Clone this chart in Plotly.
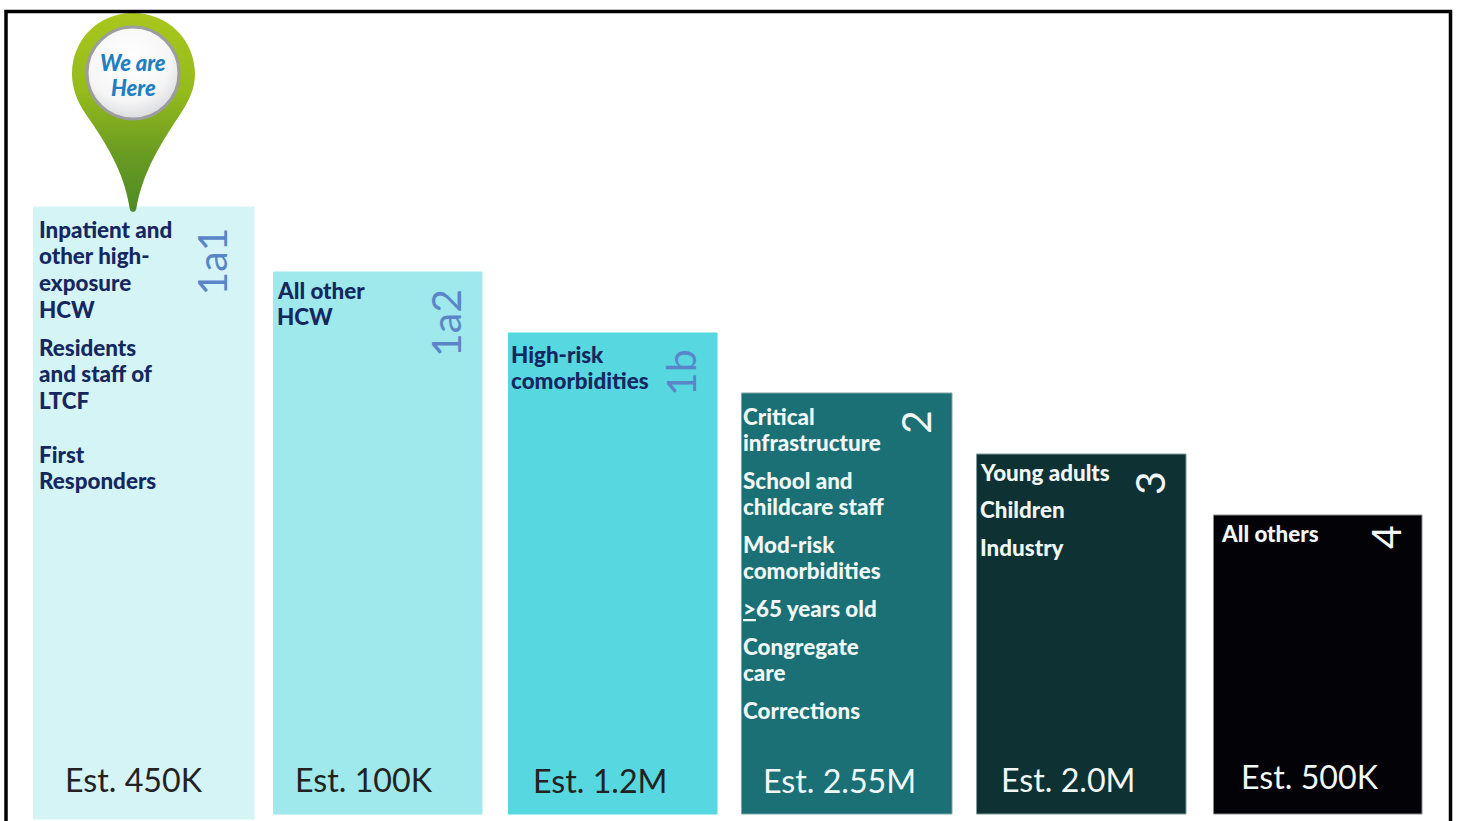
import base64
import plotly.graph_objects as go

# ---- data ----
tiers = ["1a1", "1a2", "1b", "2", "3", "4"]
estimates = ["Est. 450K", "Est. 100K", "Est. 1.2M", "Est. 2.55M", "Est. 2.0M", "Est. 500K"]
bar_tops = [614, 549, 488, 428, 367, 306]
bar_bases = [2, 7, 7, 7, 7, 7]
bar_left = [33.5, 273.5, 508.5, 741.5, 976.5, 1213.5]
bar_right = [254, 482, 717, 952, 1186, 1422]
groups_1a1 = ["Inpatient and<br>other high-<br>exposure<br>HCW", "Residents<br>and staff of<br>LTCF", "First<br>Responders"]
groups_1a2 = ["All other<br>HCW"]
groups_1b = ["High-risk<br>comorbidities"]
groups_2 = ["Critical<br>infrastructure", "School and<br>childcare staff", "Mod-risk<br>comorbidities",
            "<u>></u>65 years old", "Congregate<br>care", "Corrections"]
groups_3 = ["Young adults", "Children", "Industry"]
groups_4 = ["All others"]

# ---- styling and layout ----
W, H = 1458, 821
bar_colors = ["#d5f4f6", "#9fe8eb", "#57d7df", "#1a7074", "#0e3233", "#020207"]
bar_lines = ["#d5f4f6", "#9fe8eb", "#57d7df", "#7fa5a6", "#7f9a9a", "#8a8a90"]
NAVY = "#14285f"
LIGHT = "#f1f6f6"
FONT = "Lato"
PITCH = 26.8

def Y(py):
    return H - py

fig = go.Figure()
fig.add_trace(go.Bar(
    x=[(a + b) / 2 for a, b in zip(bar_left, bar_right)],
    y=[t - b for t, b in zip(bar_tops, bar_bases)],
    base=bar_bases,
    width=[b - a for a, b in zip(bar_left, bar_right)],
    marker=dict(color=bar_colors, line=dict(color=bar_lines, width=1)),
    hovertext=tiers, hoverinfo="text", showlegend=False,
))

ann = []
def para(groups, x, ys, color):
    for g, y in zip(groups, ys):
        for i, line in enumerate(g.split("<br>")):
            ann.append(dict(x=x, y=Y(y + i * PITCH), text=line, xref="x", yref="y",
                            xanchor="left", yanchor="middle", showarrow=False, borderpad=0, align="left",
                            font=dict(family=FONT, size=22.4, color=color, weight=900)))

para(groups_1a1, 37.5, [229, 347, 454], NAVY)
para(groups_1a2, 276, [290], NAVY)
para(groups_1b, 510, [354], NAVY)
para(groups_2, 742, [416, 480, 544, 608, 646, 710], LIGHT)
para(groups_3, 979, [472, 509, 547], LIGHT)
para(groups_4, 1220, [533], LIGHT)

# tier labels (rotated)
tier_x = [210.5, 445.5, 680, 915, 1149, 1385]
tier_y = [262, 323.5, 373, 422, 483, 537]
tier_colors = ["#5a86c9", "#5a86c9", "#5a86c9", LIGHT, LIGHT, LIGHT]
for t, x, y, c in zip(tiers, tier_x, tier_y, tier_colors):
    ann.append(dict(x=x, y=Y(y), text=t, xref="x", yref="y", showarrow=False, textangle=-90,
                    font=dict(family=FONT, size=41, color=c)))

# estimates
est_x = [133.5, 363.5, 600, 839, 1068, 1309.5]
est_y = [779.5, 779.5, 780.5, 780.5, 779.5, 776.5]
est_colors = ["#222222", "#222222", "#222222", LIGHT, LIGHT, LIGHT]
for t, x, y, c in zip(estimates, est_x, est_y, est_colors):
    ann.append(dict(x=x, y=Y(y), text=t, xref="x", yref="y", showarrow=False,
                    font=dict(family=FONT, size=32.2, color=c)))

# pin text
for t, y in zip(["We are", "Here"], [62.5, 87.5]):
    ann.append(dict(x=133, y=Y(y), text=t, xref="x", yref="y", showarrow=False,
                    font=dict(family=FONT, size=22, color="#1f7fc0", weight=900, style="italic")))

# pin drawing: x 60..210, y 5..220 in picture pixels
svg = """<svg xmlns='http://www.w3.org/2000/svg' width='150' height='215' viewBox='60 5 150 215'>
<defs>
<linearGradient id='g' x1='0' y1='0' x2='0' y2='1'>
<stop offset='0' stop-color='#a9c71d'/><stop offset='0.4' stop-color='#94ba1c'/>
<stop offset='0.7' stop-color='#6a9c22'/><stop offset='1' stop-color='#4e8a26'/></linearGradient>
<radialGradient id='w' cx='0.45' cy='0.35' r='0.75'>
<stop offset='0' stop-color='#ffffff'/><stop offset='0.6' stop-color='#f6f6f6'/><stop offset='1' stop-color='#cfd0d4'/></radialGradient>
</defs>
<path d='M133 13 C168 13 195 40 195 74 C195 88 189 101 181 113 C162 142 143 170 136 210 Q133 214 130 210 C124 170 105 142 85 113 C77 101 72 88 72 74 C72 40 98 13 133 13 Z' fill='url(#g)'/>
<circle cx='133' cy='73' r='46' fill='url(#w)' stroke='#9c9da1' stroke-width='3'/>
</svg>"""
uri = "data:image/svg+xml;base64," + base64.b64encode(svg.encode()).decode()

fig.update_layout(
    width=W, height=H, autosize=False,
    margin=dict(l=0, r=0, t=0, b=0),
    paper_bgcolor="white", plot_bgcolor="white",
    showlegend=False,
    xaxis=dict(range=[0, W], visible=False, fixedrange=True),
    yaxis=dict(range=[0, H], visible=False, fixedrange=True),
    annotations=ann,
    images=[dict(source=uri, xref="x", yref="y", x=60, y=Y(5), sizex=150, sizey=215,
                 sizing="stretch", xanchor="left", yanchor="top", layer="above")],
    shapes=[dict(type="path", xref="x", yref="y",
                 path=f"M 6 {Y(825)} L 6 {Y(11.5)} L 1450.5 {Y(11.5)} L 1450.5 {Y(825)}",
                 line=dict(color="#000000", width=3.5))],
)
fig.write_html("out.html", config={"displayModeBar": False}, include_plotlyjs=True,
               post_script="document.body.style.margin='0';document.body.style.overflow='hidden';")
